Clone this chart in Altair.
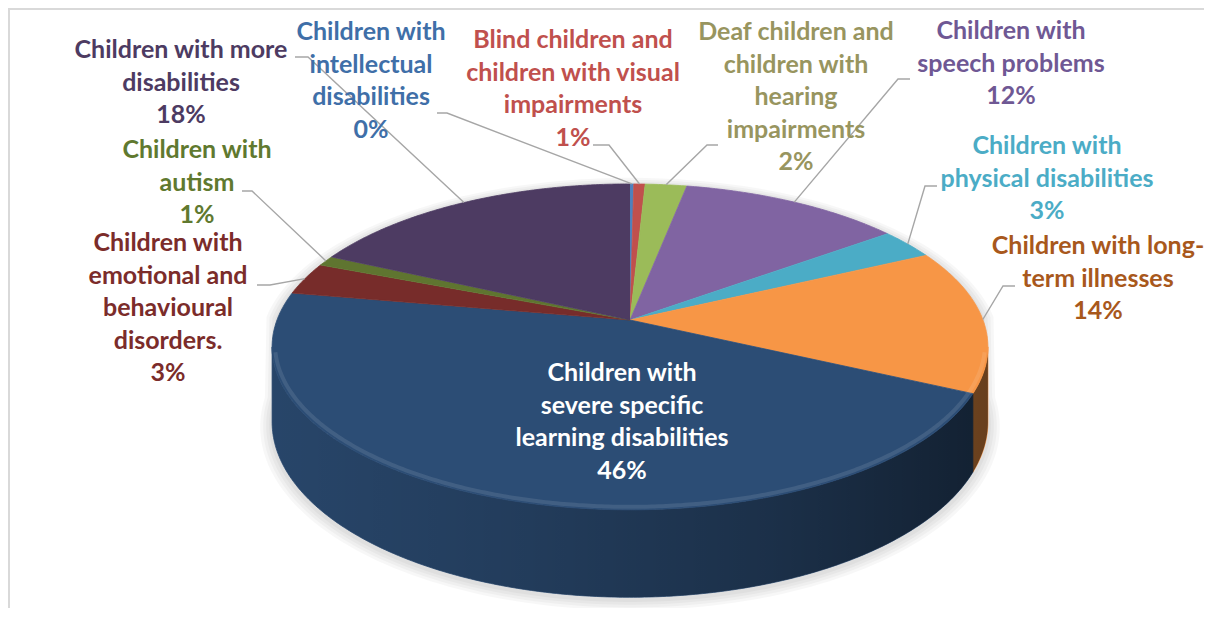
import math
import numpy as np
import pandas as pd
import altair as alt

# ---------------- data ----------------
categories = [
    "Children with intellectual disabilities",
    "Blind children and children with visual impairments",
    "Deaf children and children with hearing impairments",
    "Children with speech problems",
    "Children with physical disabilities",
    "Children with long-term illnesses",
    "Children with severe specific learning disabilities",
    "Children with emotional and behavioural disorders.",
    "Children with autism",
    "Children with more disabilities",
]
values = [0.2, 0.6, 2.2, 11.8, 3.0, 14.3, 45.7, 3.2, 1.0, 18.0]
label_lines = [
    ["Children with", "intellectual", "disabilities"],
    ["Blind children and", "children with visual", "impairments"],
    ["Deaf children and", "children with", "hearing", "impairments"],
    ["Children with", "speech problems"],
    ["Children with", "physical disabilities"],
    ["Children with long-", "term illnesses"],
    ["Children with", "severe specific", "learning disabilities"],
    ["Children with", "emotional and", "behavioural", "disorders."],
    ["Children with", "autism"],
    ["Children with more", "disabilities"],
]
slice_colors = ["#4F81BD", "#C0504D", "#9BBB59", "#8064A2", "#4BACC6",
                "#F79646", "#2C4D75", "#772C2A", "#5F7530", "#4D3B62"]
text_colors = ["#3F6FA8", "#C0504D", "#98955F", "#6F5894", "#4BACC6",
               "#A8581C", "#FFFFFF", "#7B2C2A", "#60792F", "#4D3B62"]

# ---------------- layout (page pixel coordinates) ----------------
W, H = 1196, 600
CX, CY = 630.0, 320.0
RX, RY = 353.0, 158.5
PERSP = 0.165
DEPTH = 73.0
# (x centre, y of first text line)
label_pos = [(371, 32), (573, 40), (796, 32), (1011, 31), (1047, 146),
             (1098, 246), (622, 373), (168, 243), (197, 150), (181, 50)]
leader_elbows = [[(437, 113), (447, 113)], [(593, 145), (609, 145)],
                 [(718, 145), (707, 145)], [(910, 79), (898, 79)],
                 [(937, 186), (925, 186)], [(1015, 286), (1003, 286)],
                 None, [(257, 285), (270, 285)], [(242, 191), (252, 191)],
                 [(295, 57), (308, 57)]]


def proj(theta):
    """theta: radians clockwise from 12 o'clock -> screen point on the top rim."""
    phi = theta - math.pi / 2
    s, c = math.sin(phi), math.cos(phi)
    k = 1.0 / (1.0 - PERSP * s)
    return CX + RX * c * k, CY + RY * s * k, k


total = float(sum(values))
bounds = np.concatenate([[0.0], np.cumsum(values)]) / total * 2 * math.pi

# top faces
face_rows = []
for i, cat in enumerate(categories):
    t0, t1 = bounds[i], bounds[i + 1]
    n = max(3, int((t1 - t0) / (2 * math.pi) * 720) + 2)
    face_rows.append(dict(cat=cat, o=0, x=CX, y=CY))
    for j, t in enumerate(np.linspace(t0, t1, n)):
        x, y, _ = proj(t)
        face_rows.append(dict(cat=cat, o=j + 1, x=x, y=y))
faces = pd.DataFrame(face_rows)

# side walls (front half only)
phi_e = math.asin(PERSP)
w0, w1 = math.pi / 2 + phi_e, 3 * math.pi / 2 - phi_e
wall_rows, over_rows = [], []
for i, cat in enumerate(categories):
    a, b = max(bounds[i], w0), min(bounds[i + 1], w1)
    if a >= b:
        continue
    n = max(3, int((b - a) / (2 * math.pi) * 720) + 2)
    for t in np.linspace(a, b, n):
        x, y, k = proj(t)
        wall_rows.append(dict(cat=cat, x=x, y=y, y2=y + DEPTH * k))
walls = pd.DataFrame(wall_rows)
for t in np.linspace(w0, w1, 400):
    x, y, k = proj(t)
    over_rows.append(dict(x=x, y=y, y2=y + DEPTH * k))
overlay = pd.DataFrame(over_rows)

# soft shadow
shadow_rows = []
for li, e in enumerate([3, 6, 9, 12]):
    for j, t in enumerate(np.linspace(0, 2 * math.pi, 240)):
        x, y, k = proj(t)
        if math.pi / 2 <= t <= 3 * math.pi / 2:
            y = y + DEPTH * k
        sx = CX + (x - CX) * (1 + e / 360.0)
        sy = CY + 40 + (y - CY - 40) * (1 + e / 260.0) + 2
        shadow_rows.append(dict(layer=li, o=j, x=sx, y=sy))
shadow = pd.DataFrame(shadow_rows)

# bevel highlight along front rim
bevel_rows = []
for j, t in enumerate(np.linspace(w0 + 0.05, w1 - 0.05, 300)):
    x, y, k = proj(t)
    bevel_rows.append(dict(o=j, x=CX + (x - CX) * 0.992, y=y - 3))
bevel = pd.DataFrame(bevel_rows)

# leader lines
lead_rows = []
for i, cat in enumerate(categories):
    if leader_elbows[i] is None:
        continue
    tm = (bounds[i] + bounds[i + 1]) / 2
    ex, ey, _ = proj(tm)
    pts = list(leader_elbows[i]) + [(ex, ey)]
    for j, (x, y) in enumerate(pts):
        lead_rows.append(dict(cat=cat, o=j, x=x, y=y))
leads = pd.DataFrame(lead_rows)

# labels
labels = pd.DataFrame({
    "x": [p[0] for p in label_pos],
    "y": [p[1] for p in label_pos],
    "label": ["\n".join(lines + [f"{round(v)}%"]) for lines, v in zip(label_lines, values)],
    "tc": text_colors,
})

# ---------------- chart ----------------
xs = alt.Scale(domain=[8, 8 + W], nice=False, zero=False)
ys = alt.Scale(domain=[8, 8 + H], nice=False, zero=False, reverse=True)
fill_scale = alt.Scale(domain=categories, range=slice_colors)


def X():
    return alt.X("x:Q", scale=xs, axis=None)


def Y(f="y"):
    return alt.Y(f"{f}:Q", scale=ys, axis=None)


frame = alt.layer(
    alt.Chart(pd.DataFrame({"a": [0]})).mark_rule(color="#D9D9D9", strokeWidth=2).encode(
        x=alt.value(1), y=alt.value(0), y2=alt.value(H + 20)),
    alt.Chart(pd.DataFrame({"a": [0]})).mark_rule(color="#D9D9D9", strokeWidth=2).encode(
        x=alt.value(0), x2=alt.value(W + 20), y=alt.value(1)),
)

shadow_layer = alt.Chart(shadow).mark_line(strokeWidth=0, fill="#000000", fillOpacity=0.03).encode(
    x=X(), y=Y(), detail="layer:N", order="o:Q")

wall_layer = alt.Chart(walls).mark_area(strokeWidth=0.8).encode(
    x=X(), y=Y(), y2=alt.Y2("y2:Q"),
    fill=alt.Fill("cat:N", scale=fill_scale, legend=None),
    stroke=alt.Stroke("cat:N", scale=fill_scale, legend=None),
)

grad = alt.Gradient(
    gradient="linear",
    stops=[alt.GradientStop(color="rgba(0,0,0,0.10)", offset=0),
           alt.GradientStop(color="rgba(0,0,0,0.22)", offset=0.35),
           alt.GradientStop(color="rgba(0,0,0,0.38)", offset=0.7),
           alt.GradientStop(color="rgba(0,0,0,0.58)", offset=1)],
    x1=0, x2=1, y1=0, y2=0,
)
overlay_layer = alt.Chart(overlay).mark_area(color=grad).encode(
    x=X(), y=Y(), y2=alt.Y2("y2:Q"))

face_layer = alt.Chart(faces).mark_line(strokeWidth=0.8).encode(
    x=X(), y=Y(), order="o:Q", detail="cat:N",
    fill=alt.Fill("cat:N", scale=fill_scale, legend=None),
    stroke=alt.Stroke("cat:N", scale=fill_scale, legend=None),
)

bevel_layer = alt.Chart(bevel).mark_line(color="#FFFFFF", strokeWidth=4, opacity=0.10).encode(
    x=X(), y=Y(), order="o:Q")

lead_layer = alt.Chart(leads).mark_line(color="#A6A6A6", strokeWidth=1.4).encode(
    x=X(), y=Y(), order="o:Q", detail="cat:N")

text_layer = alt.Chart(labels).mark_text(
    font="Lato", fontWeight="bold", fontSize=25, lineHeight=32.5,
    align="center", baseline="middle", lineBreak="\n",
).encode(x=X(), y=Y(), text="label:N", color=alt.Color("tc:N", scale=None))

chart = alt.layer(
    frame, shadow_layer, wall_layer, overlay_layer, face_layer, bevel_layer, lead_layer, text_layer
).properties(
    width=W, height=H, padding=0,
    autosize=alt.AutoSizeParams(type="none"),
).configure_view(stroke=None)

chart.save("out.html", embed_options={"renderer": "svg", "actions": False})
